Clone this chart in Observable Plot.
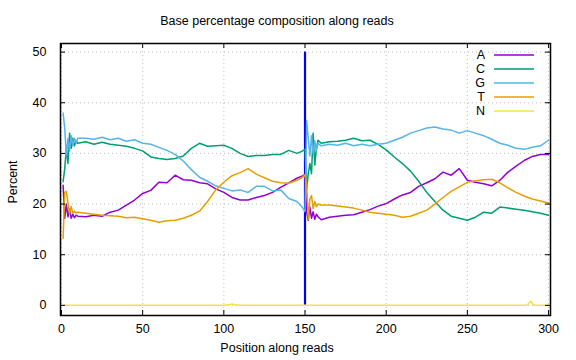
<!DOCTYPE html>
<html>
<head>
<meta charset="utf-8">
<script src="https://cdn.jsdelivr.net/npm/d3@7"></script>
<script src="https://cdn.jsdelivr.net/npm/@observablehq/plot@0.6"></script>
<style>
  html, body { margin: 0; padding: 0; background: #fff; }
  #chart svg { display: block; }
</style>
</head>
<body>
<div id="chart"></div>
<script>
// ---- data ----
const bases = ["A", "C", "G", "T", "N"];
const positions = [1,2,3,4,5,6,7,8,9,10,
  15,20,25,30,35,40,45,50,55,60,65,70,75,80,85,90,95,100,105,110,115,120,125,130,135,140,145,
  148,150,151,152,153,154,155,156,157,158,160,
  165,170,175,180,185,190,195,200,205,210,215,220,225,230,235,240,245,250,255,260,265,270,275,280,285,290,295,300];
const aVals = [23.7,17.2,20,17.5,19,17.2,18,17.3,17.8,17.6,
  17.5,17.8,17.6,18.4,18.8,19.8,20.8,22.1,22.7,24.3,24.2,25.7,24.8,24.7,24.2,24,23,22.3,21.3,20.8,20.8,21.3,21.7,22.3,23.3,24.2,25.1,
  25.5,25.8,18.4,16.8,19.4,17.2,18.5,17,18,17.5,16.9,
  17.4,17.6,17.8,17.9,18.4,18.9,19.6,20.1,21,21.8,22.3,23.5,24.2,25,26.3,25.7,27,24.7,24.3,24,23.6,24.7,26.3,27.5,28.6,29.4,29.8,29.8];
const cVals = [24.4,27,31,28,34,31,33,31.5,32.5,32,
  32.3,31.8,32.2,31.8,31.6,31.4,31,30.5,29.3,29,28.8,29,29.5,31,32,31.4,31.5,31.6,31,30,29.4,29.6,29.6,29.8,29.8,30.6,30,
  30.4,30.8,23,26,28,26,34,27.7,31,32.6,32,
  32.3,32.4,32.6,33,32.5,32.6,31.8,30.7,29.3,28,26.5,24.5,22.3,20.5,18.8,17.6,17.2,16.8,17.4,18.4,18.2,19.4,19.2,19,18.8,18.5,18.2,17.8];
const gVals = [38,35,29.5,33,30.5,33.5,31.5,33,32,33,
  33,32.8,33.2,32.7,33,32.4,32.7,32,31.8,31.2,30.6,29.8,28.5,26.8,25.3,24.5,23.6,23.1,22.6,22.8,22.3,23.5,23.5,22.6,22.8,21.1,20.5,
  19.5,18.5,36.5,33,29.5,33.5,30,32.5,30.5,32,31.5,
  31.8,31.6,32,31.5,31.8,31.5,31.8,32,32.6,33.2,34,34.5,35,35.2,34.8,34.6,34,34.5,34,33.5,32.8,32,31.6,31,30.8,31.2,31.5,32.6];
const tVals = [13.2,22.3,22.5,20.3,18,19.5,18.2,18.6,18.3,18.4,
  18.2,18,17.8,17.7,17.6,17.3,17.4,17.1,16.8,16.4,16.7,16.8,17.2,17.8,18.6,20.5,22.8,24.3,25.6,26.2,27,25.9,25.2,24.5,24.2,24.1,24.7,
  25.2,25.8,24,17,21,21.7,19.1,20.5,19.5,20,19.8,
  19.8,19.6,19.4,19.2,18.8,18.4,18.2,18,17.8,17.4,17.6,18.2,18.8,20,21.3,22.5,23.4,24.3,24.6,24.8,24.9,24.2,23.2,22.3,21.6,21,20.6,20.2];
const nPositions = [1,100,103,105,107,110,285,287,289,291,300];
const nVals = [0,0,0.1,0.3,0.1,0,0,0.1,0.8,0,0];
const xTicks = [0,50,100,150,200,250,300];
const yTicks = [0,10,20,30,40,50];
const markerPos = [150];
const markerRange = [0, 50];

// ---- styles ----
const baseColors = ["#9400d3", "#009e73", "#56b4e9", "#e69f00", "#f0e442"];
const font = "'Liberation Sans', Arial, sans-serif";

const series = {A: aVals, C: cVals, G: gVals, T: tVals};
const table = [];
for (const b of ["A", "C", "G", "T"]) {
  positions.forEach((p, i) => table.push({pos: p, base: b, pct: series[b][i]}));
}
nPositions.forEach((p, i) => table.push({pos: p, base: "N", pct: nVals[i]}));

const W = 576, H = 360, mL = 60, mR = 26, mT = 43, mB = 45;
const fw = W - mL - mR, fh = H - mT - mB, tk = 5;

const plot = Plot.plot({
  width: W, height: H,
  marginLeft: mL, marginRight: mR, marginTop: mT, marginBottom: mB,
  style: {fontFamily: font, fontSize: "12.5px", background: "#fff", color: "#000"},
  x: {domain: [-0.6, 301.2], label: null},
  y: {domain: [-2, 51.7], label: null},
  color: {domain: bases, range: baseColors},
  marks: [
    Plot.gridX(xTicks, {stroke: "#b0b0b0", strokeOpacity: 1, strokeWidth: 0.8, strokeDasharray: "1,3"}),
    Plot.gridY(yTicks, {stroke: "#b0b0b0", strokeOpacity: 1, strokeWidth: 0.8, strokeDasharray: "1,3"}),
    Plot.axisX(xTicks, {tickSize: 0, tickPadding: 9, fontSize: 12.5}),
    Plot.axisY(yTicks, {tickSize: 0, tickPadding: 14, fontSize: 12.5}),
    Plot.ruleX(markerPos, {x: d => d, y1: markerRange[0], y2: markerRange[1], stroke: "#0000ff", strokeWidth: 2.2}),
    Plot.line(table, {x: "pos", y: "pct", z: "base", stroke: "base", strokeWidth: 1.5}),
    Plot.ruleX(xTicks, {x: d => d, insetTop: fh - tk, stroke: "#000"}),
    Plot.ruleX(xTicks, {x: d => d, insetBottom: fh - tk, stroke: "#000"}),
    Plot.ruleY(yTicks, {y: d => d, insetRight: fw - tk, stroke: "#000"}),
    Plot.ruleY(yTicks, {y: d => d, insetLeft: fw - tk, stroke: "#000"}),
    Plot.frame({stroke: "#000", strokeWidth: 1.5})
  ]
});

const svg = d3.select(plot);
// title and axis titles
svg.append("text").attr("x", 277).attr("y", 25).attr("text-anchor", "middle")
  .attr("font-family", font).attr("font-size", 12.5).attr("fill", "#000")
  .text("Base percentage composition along reads");
svg.append("text").attr("x", 277).attr("y", 352).attr("text-anchor", "middle")
  .attr("font-family", font).attr("font-size", 12.5).attr("fill", "#000")
  .text("Position along reads");
svg.append("text").attr("transform", "translate(17,182) rotate(-90)").attr("text-anchor", "middle")
  .attr("font-family", font).attr("font-size", 12.5).attr("fill", "#000")
  .text("Percent");
// legend
const leg = svg.append("g");
bases.forEach((b, i) => {
  const y = 55 + 14 * i;
  leg.append("text").attr("x", 485).attr("y", y).attr("dy", "0.35em").attr("text-anchor", "end")
    .attr("font-family", font).attr("font-size", 12.5).attr("fill", "#000").text(b);
  leg.append("line").attr("x1", 494).attr("x2", 534).attr("y1", y).attr("y2", y)
    .attr("stroke", baseColors[i]).attr("stroke-width", 1.5);
});

document.getElementById("chart").appendChild(plot);
</script>
</body>
</html>
